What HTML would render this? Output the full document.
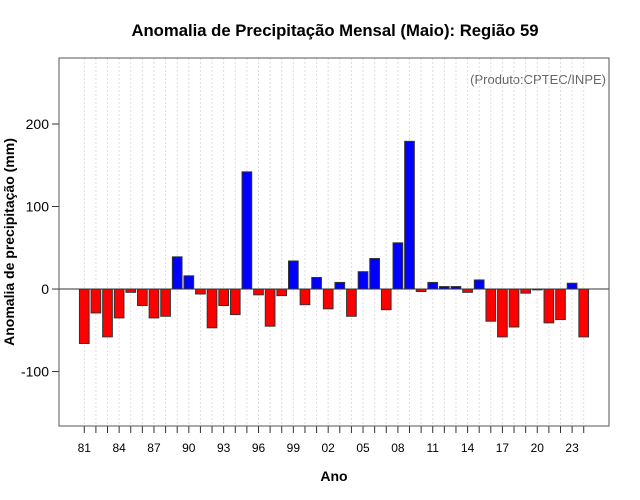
<!DOCTYPE html>
<html><head><meta charset="utf-8"><style>
body{margin:0;background:#fff;}
svg{display:block;font-family:"Liberation Sans",sans-serif;}
</style></head><body>
<svg id="chart" width="640" height="500">
<rect width="640" height="500" fill="#fff"/>
<text x="335" y="36" text-anchor="middle" font-size="16.7" font-weight="bold">Anomalia de Precipitação Mensal (Maio): Região 59</text>
<text x="606" y="84" text-anchor="end" font-size="13" fill="#666">(Produto:CPTEC/INPE)</text>
<text x="14" y="242" text-anchor="middle" font-size="14" font-weight="bold" transform="rotate(-90 14 242)">Anomalia de precipitação (mm)</text>
<text x="334" y="481" text-anchor="middle" font-size="14" font-weight="bold">Ano</text>
<g id="grid"></g><g id="bars"></g><g id="axes"></g>
<rect x="59" y="58" width="550" height="368" fill="none" stroke="#555"/>
</svg>
<script>
const years = [];
for (let y = 1981; y <= 2024; y++) years.push(y);
const values = [-66,-29,-58,-35,-4,-20,-35,-33,39,16,-6,-47,-20,-31,142,-7,-45,-8,34,-19,14,-24,8,-33,21,37,-25,56,179,-3,8,3,3,-4,11,-39,-58,-46,-5,-1,-41,-37,7,-58];
const yTicks = [-100, 0, 100, 200];
const NS = 'http://www.w3.org/2000/svg';
const L = 59, R = 609, T = 58, B = 426;
const yMin = -166, yMax = 280;
const n = years.length;
const uMin = 0.2 - 0.04 * (1.2 * n), uMax = 1.2 * n + 0.04 * (1.2 * n);
function xs(u) { return L + (u - uMin) / (uMax - uMin) * (R - L); }
function ys(v) { return B - (v - yMin) / (yMax - yMin) * (B - T); }
function mk(tag, attrs, parent) { const e = document.createElementNS(NS, tag); for (const k in attrs) e.setAttribute(k, attrs[k]); parent.appendChild(e); return e; }
const grid = document.getElementById('grid'), bars = document.getElementById('bars'), axes = document.getElementById('axes');
years.forEach((yr, i) => {
  const c = 0.7 + 1.2 * i;
  const cx = xs(c);
  const g = mk('line', {x1: cx, x2: cx, y1: T, y2: B, stroke: '#ddd', 'stroke-dasharray': '2,2'}, grid);
  
  
  const v = values[i];
  const x0 = xs(c - 0.5), x1 = xs(c + 0.5);
  const r = mk('rect', {x: x0, y: Math.min(ys(v), ys(0)), width: x1 - x0, height: Math.abs(ys(v) - ys(0)), fill: v >= 0 ? '#0000ff' : '#ff0000', stroke: '#333', 'stroke-width': 1}, bars);
  
  
  const t = mk('line', {x1: cx, x2: cx, y1: B, y2: B + 7, stroke: '#333'}, axes);
  
  
  if ((yr - 1981) % 3 === 0) {
    const tx = mk('text', {x: cx, y: B + 26, 'text-anchor': 'middle', 'font-size': 12}, axes);
    tx.textContent = String(yr % 100).padStart(2, '0');
    
    
  }
});
const z = mk('line', {x1: L, x2: R, y1: ys(0), y2: ys(0), stroke: '#333'}, axes);


yTicks.forEach(v => {
  const y = ys(v);
  const t = mk('line', {x1: L - 7, x2: L, y1: y, y2: y, stroke: '#333'}, axes);
  
  
  const tx = mk('text', {x: L - 10, y: y + 5, 'text-anchor': 'end', 'font-size': 14}, axes);
  tx.textContent = v;
  
  
});
</script>
</body></html>
